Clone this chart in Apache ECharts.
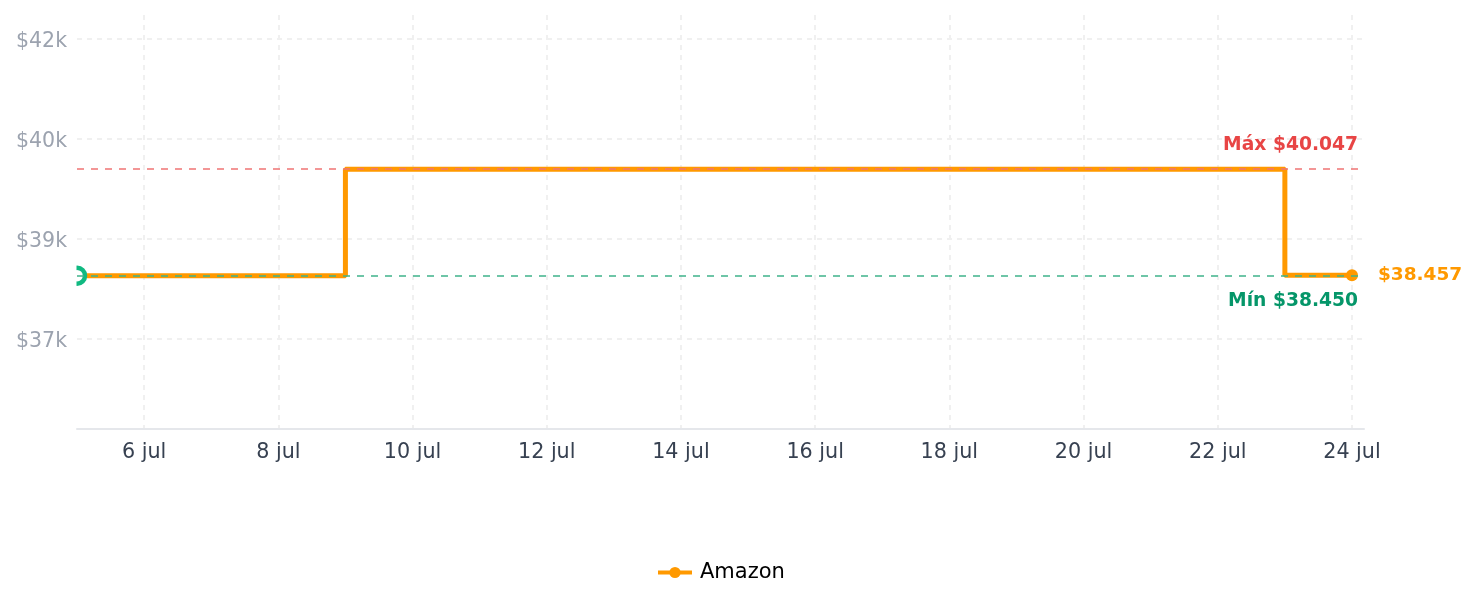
<!DOCTYPE html>
<html>
<head>
<meta charset="utf-8">
<script src="https://cdn.jsdelivr.net/npm/echarts@6/dist/echarts.min.js"></script>
<style>
html,body{margin:0;padding:0;background:#fff;}
#chart{width:1479px;height:607px;}
</style>
</head>
<body>
<div id="chart"></div>
<script>
// ---- data ----
const seriesName = 'Amazon';
const priceDates = ['2024-07-05', '2024-07-09', '2024-07-23', '2024-07-24'];
const priceValues = [38450, 40047, 38457, 38457];
const xTickDates = ['2024-07-06', '2024-07-08', '2024-07-10', '2024-07-12', '2024-07-14',
                    '2024-07-16', '2024-07-18', '2024-07-20', '2024-07-22', '2024-07-24'];
const xTickLabels = ['6 jul', '8 jul', '10 jul', '12 jul', '14 jul',
                     '16 jul', '18 jul', '20 jul', '22 jul', '24 jul'];
const yTickValues = [37500, 39000, 40500, 42000];
const yTickLabels = ['$37k', '$39k', '$40k', '$42k'];
const xRange = ['2024-07-05 00:00', '2024-07-24 04:18'];
const yRange = [36150, 42360];
const currentLabel = '$38.457';

// ---- helpers ----
function ts(s) {
  const [d, t] = s.split(' ');
  const [y, m, dd] = d.split('-').map(Number);
  let hh = 0, mm = 0;
  if (t) { [hh, mm] = t.split(':').map(Number); }
  return Date.UTC(y, m - 1, dd, hh, mm);
}
function fmtMoney(v) {
  return '$' + String(Math.round(v)).replace(/\B(?=(\d{3})+(?!\d))/g, '.');
}
const FONT = 'DejaVu Sans';
const xTickTs = xTickDates.map(ts);

const seriesData = priceDates.map((d, i) => {
  const item = { value: [ts(d), priceValues[i]], symbolSize: 0 };
  if (i === 0) {
    item.symbol = 'circle';
    item.symbolSize = 16;
    item.itemStyle = { color: '#ffffff', borderColor: '#10b981', borderWidth: 4.5 };
  }
  if (i === priceDates.length - 1) {
    item.symbol = 'circle';
    item.symbolSize = 12;
    item.label = {
      show: true, position: 'right', distance: 20,
      formatter: currentLabel, color: '#ff9900',
      fontFamily: FONT, fontWeight: 'bold', fontSize: 18.5
    };
  }
  return item;
});

const chart = echarts.init(document.getElementById('chart'), null, { renderer: 'canvas' });
chart.setOption({
  animation: false,
  backgroundColor: '#ffffff',
  textStyle: { fontFamily: FONT },
  grid: { left: 77, right: 115, top: 15, bottom: 178, containLabel: false },
  legend: {
    show: true,
    left: 656, top: 562, padding: 0,
    itemWidth: 34, itemHeight: 14, itemGap: 10,
    lineStyle: { width: 4 },
    textStyle: { fontFamily: FONT, fontSize: 21, color: '#000000', padding: [0, 0, 0, 3] },
    data: [seriesName]
  },
  // white mask left of the plot so the start marker is cut at the plot edge
  graphic: [{
    type: 'rect', left: 60, top: 262, z: 100,
    shape: { width: 16.5, height: 27 },
    style: { fill: '#ffffff' }, silent: true
  }],
  xAxis: {
    type: 'value',
    min: ts(xRange[0]), max: ts(xRange[1]),
    axisLine: { show: true, lineStyle: { color: '#e5e7eb', width: 2 } },
    axisTick: { show: false, customValues: xTickTs },
    axisLabel: {
      customValues: xTickTs,
      formatter: function (v) {
        const i = xTickTs.indexOf(v);
        return i >= 0 ? xTickLabels[i] : '';
      },
      color: '#374151', fontFamily: FONT, fontSize: 20.7, margin: 13,
      showMinLabel: true, showMaxLabel: true, hideOverlap: false
    },
    splitLine: { show: true, lineStyle: { color: '#f0f0f0', width: 2, type: [5, 5] } }
  },
  yAxis: {
    type: 'value',
    min: yRange[0], max: yRange[1],
    axisLine: { show: false },
    axisTick: { show: false, customValues: yTickValues },
    axisLabel: {
      customValues: yTickValues,
      formatter: function (v) {
        const i = yTickValues.indexOf(v);
        return i >= 0 ? '{t|' + yTickLabels[i] + '}' : '';
      },
      rich: {
        t: { color: '#9ca3af', fontFamily: FONT, fontSize: 20.5, padding: [6, 0, 0, 0] }
      },
      color: '#9ca3af', fontFamily: FONT, fontSize: 20.5, margin: 10
    },
    splitLine: { show: true, lineStyle: { color: '#f0f0f0', width: 2, type: [5, 5] } }
  },
  series: [{
    name: seriesName,
    type: 'line',
    step: 'end',
    symbol: 'circle',
    symbolSize: 0,
    showAllSymbol: true,
    clip: true,
    color: '#ff9900',
    lineStyle: { color: '#ff9900', width: 5 },
    itemStyle: { color: '#ff9900' },
    data: seriesData,
    markLine: {
      silent: true,
      symbol: ['none', 'none'],
      data: [
        {
          type: 'max',
          lineStyle: { color: '#f07474', width: 1.5, type: [7, 7] },
          label: {
            position: 'insideEndTop', distance: [6, 15],
            formatter: function (p) { return 'Máx ' + fmtMoney(p.value); },
            color: '#e84545', fontFamily: FONT, fontWeight: 'bold', fontSize: 18.7
          }
        },
        {
          type: 'min',
          lineStyle: { color: '#3fb38a', width: 1.5, type: [7, 7] },
          label: {
            position: 'insideEndBottom', distance: [6, 16],
            formatter: function (p) { return 'Mín ' + fmtMoney(p.value); },
            color: '#059669', fontFamily: FONT, fontWeight: 'bold', fontSize: 18.7
          }
        }
      ]
    }
  }]
});
</script>
</body>
</html>
